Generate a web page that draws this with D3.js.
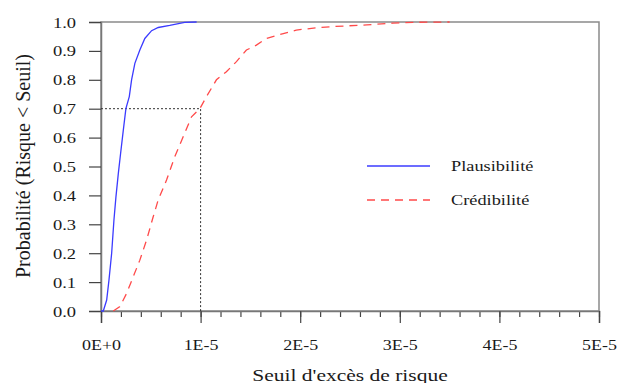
<!DOCTYPE html>
<html>
<head>
<meta charset="utf-8">
<script src="https://cdn.jsdelivr.net/npm/d3@7"></script>
<style>
  body { margin: 0; background: #fff; }
  text { font-family: "Liberation Serif", "DejaVu Serif", serif; fill: #1a1a1a; }
</style>
</head>
<body>
<div id="chart"></div>
<script>
// Plausibilité (courbe bleue)
const plausX = [0, 0.023, 0.057, 0.08, 0.107, 0.13, 0.15, 0.174, 0.197, 0.224, 0.25, 0.284, 0.307, 0.34, 0.39, 0.44, 0.508, 0.575, 0.69, 0.84, 0.96];
const plausY = [0, 0, 0.038, 0.107, 0.2, 0.315, 0.395, 0.476, 0.546, 0.626, 0.70, 0.742, 0.80, 0.857, 0.903, 0.943, 0.97, 0.981, 0.988, 0.999, 1.0];
// Crédibilité (courbe rouge pointillée)
const credX = [0.123, 0.19, 0.257, 0.324, 0.39, 0.458, 0.524, 0.574, 0.658, 0.741, 0.825, 0.909, 0.992, 1.059, 1.159, 1.259, 1.36, 1.46, 1.56, 1.66, 1.83, 1.96, 2.19, 2.32, 2.67, 2.93, 3.13, 3.5];
const credY = [0, 0.015, 0.061, 0.119, 0.176, 0.246, 0.326, 0.384, 0.453, 0.534, 0.603, 0.672, 0.70, 0.742, 0.80, 0.828, 0.863, 0.903, 0.92, 0.943, 0.96, 0.972, 0.981, 0.984, 0.99, 0.996, 0.999, 1.0];
const xTicks = [0, 1, 2, 3, 4, 5];          // en unités de 1E-5
const yTicks = [0, 0.1, 0.2, 0.3, 0.4, 0.5, 0.6, 0.7, 0.8, 0.9, 1.0];
const refPoint = [1.0, 0.7];                // seuil 1E-5 -> probabilité 0.7

const width = 623, height = 383;
const squish = 'scale(1,0.76)';
const serif = '"Liberation Serif", "DejaVu Serif", serif';

const svg = d3.select('#chart').append('svg')
  .attr('width', width).attr('height', height);

const x = d3.scaleLinear().domain([0, 5]).range([101, 599]);
const y = d3.scaleLinear().domain([0, 1]).range([311, 22]);

// cadre
svg.append('rect')
  .attr('x', x(0)).attr('y', y(1))
  .attr('width', x(5) - x(0)).attr('height', y(0) - y(1))
  .attr('fill', 'none').attr('stroke', '#8a8a8a').attr('stroke-width', 1.5);

// axe Y
const yAxis = svg.append('g')
  .attr('transform', `translate(${x(0)},0)`)
  .attr('font-family', serif)
  .call(d3.axisLeft(y).tickValues(yTicks).tickSize(12).tickFormat(d3.format('.1f')));
yAxis.attr('font-family', serif);
yAxis.select('.domain').attr('stroke', '#777').attr('stroke-width', 1.5);
yAxis.selectAll('.tick line').attr('stroke', '#444').attr('stroke-width', 1.2);
yAxis.selectAll('.tick text')
  .attr('x', -25).attr('dy', '0.36em')
  .attr('transform', squish)
  .style('font-size', '18.5px').attr('fill', '#1a1a1a');

// axe X : graduations mineures
const minor = d3.range(0, 5.01, 0.2);
const xMinor = svg.append('g')
  .attr('transform', `translate(0,${y(0)})`)
  .call(d3.axisBottom(x).tickValues(minor).tickSize(6).tickFormat(''));
xMinor.select('.domain').remove();
xMinor.selectAll('.tick line').attr('stroke', '#444').attr('stroke-width', 1.2);

// axe X : graduations majeures
const xAxis = svg.append('g')
  .attr('transform', `translate(0,${y(0)})`)
  .call(d3.axisBottom(x).tickValues(xTicks).tickSize(12)
    .tickFormat(d => d === 0 ? '0E+0' : `${d}E-5`));
xAxis.attr('font-family', serif);
xAxis.select('.domain').attr('stroke', '#777').attr('stroke-width', 1.5);
xAxis.selectAll('.tick line').attr('stroke', '#444').attr('stroke-width', 1.2);
xAxis.selectAll('.tick text')
  .attr('y', 0).attr('dy', 0)
  .attr('transform', `translate(0,39) ${squish}`)
  .style('font-size', '18px').attr('fill', '#1a1a1a');

// lignes de repère pointillées
svg.append('path')
  .attr('d', `M${x(0)},${y(refPoint[1])}H${x(refPoint[0])}V${y(0)}`)
  .attr('fill', 'none').attr('stroke', '#333').attr('stroke-width', 1)
  .attr('stroke-dasharray', '2,2');

const line = d3.line().x(d => x(d[0])).y(d => y(d[1]));

svg.append('path')
  .datum(plausX.map((v, i) => [v, plausY[i]]))
  .attr('d', line)
  .attr('fill', 'none').attr('stroke', '#3b3bff').attr('stroke-width', 1.3);

svg.append('path')
  .datum(credX.map((v, i) => [v, credY[i]]))
  .attr('d', line)
  .attr('fill', 'none').attr('stroke', '#ff4a4a').attr('stroke-width', 1.3)
  .attr('stroke-dasharray', '8,6');

// légende
const legend = [
  { label: 'Plausibilité', color: '#3b3bff', dash: null, y: 166 },
  { label: 'Crédibilité', color: '#ff4a4a', dash: '8,6', y: 200 }
];
legend.forEach(l => {
  svg.append('line')
    .attr('x1', 367).attr('x2', 430).attr('y1', l.y).attr('y2', l.y)
    .attr('stroke', l.color).attr('stroke-width', 1.3)
    .attr('stroke-dasharray', l.dash);
  svg.append('text')
    .attr('transform', `translate(451,${l.y + 5}) ${squish}`)
    .style('font-size', '18.3px')
    .text(l.label);
});

// titres des axes
svg.append('text')
  .attr('transform', `translate(350,381) ${squish}`)
  .attr('text-anchor', 'middle')
  .style('font-size', '21.5px')
  .text("Seuil d'excès de risque");

svg.append('text')
  .attr('transform', 'translate(30,166) rotate(-90)')
  .attr('text-anchor', 'middle')
  .style('font-size', '20px')
  .text('Probabilité (Risque < Seuil)');
</script>
</body>
</html>
